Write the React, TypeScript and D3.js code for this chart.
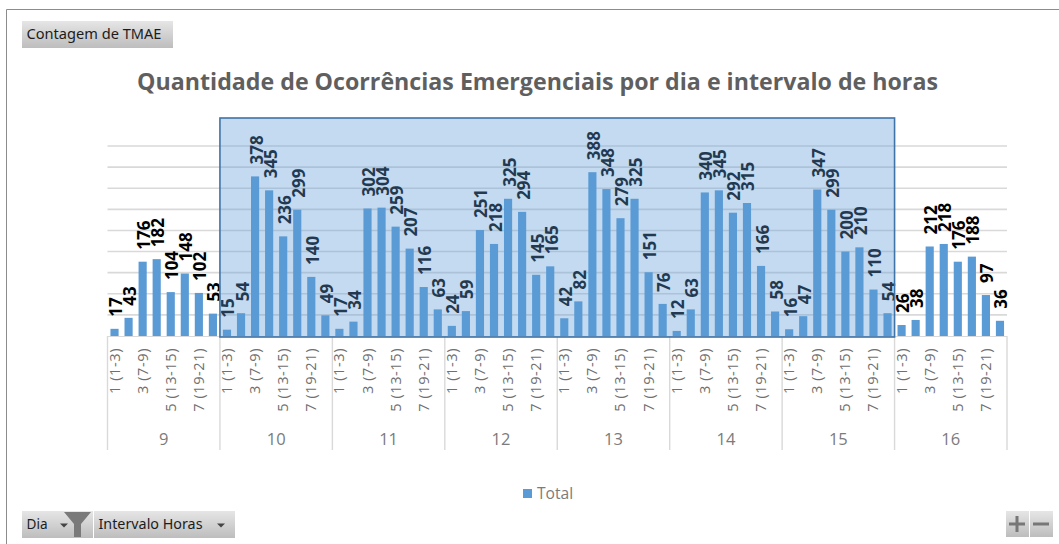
import React from "react";
import * as d3 from "d3";

const days = ["9", "10", "11", "12", "13", "14", "15", "16"];
const intervals = ["1 (1-3)", "2 (4-6)", "3 (7-9)", "4 (10-12)", "5 (13-15)", "6 (16-18)", "7 (19-21)", "8 (22-24)"];
const shownIntervals = ["1 (1-3)", "3 (7-9)", "5 (13-15)", "7 (19-21)"];
const day9 = [17, 43, 176, 182, 104, 148, 102, 53];
const day10 = [15, 54, 378, 345, 236, 299, 140, 49];
const day11 = [17, 34, 302, 304, 259, 207, 116, 63];
const day12 = [24, 59, 251, 218, 325, 294, 145, 165];
const day13 = [42, 82, 388, 348, 279, 325, 151, 76];
const day14 = [12, 63, 340, 345, 292, 315, 166, 58];
const day15 = [16, 47, 347, 299, 200, 210, 110, 54];
const day16 = [26, 38, 212, 218, 176, 188, 97, 36];
const seriesByDay = [day9, day10, day11, day12, day13, day14, day15, day16];
const gridValues = [50, 100, 150, 200, 250, 300, 350, 400, 450];
const selectedDays = ["10", "11", "12", "13", "14", "15"];

const FONT = "'Open Sans', 'Noto Sans', sans-serif";
const BTNFONT = "'Noto Sans', sans-serif";
const BAR = "#5b9bd5";

function Btn({ x, y, w, h, label, labelW, arrow }: { x: number; y: number; w: number; h: number; label?: string; labelW?: number; arrow?: number }) {
  return (
    <g>
      <rect x={x} y={y} width={w} height={h} fill="url(#btn)" />
      {label && (
        <text x={x + 4.5} y={y + h / 2 + 4.5} fontSize={14} fill="#1c1c1c" fontFamily={BTNFONT} textLength={labelW} lengthAdjust="spacingAndGlyphs">
          {label}
        </text>
      )}
      {arrow !== undefined && <path d={`M${arrow},${y + 12.5}h8l-4,4z`} fill="#444" />}
    </g>
  );
}

export default function App() {
  const keys = days.flatMap((d) => intervals.map((i) => `${d}|${i}`));
  const x = d3.scaleBand<string>().domain(keys).range([107.5, 1007]).paddingInner(0.42).paddingOuter(0.21);
  const step = x.step();
  const y = d3.scaleLinear().domain([0, 450]).range([336, 146]);
  const left = (d: string) => x(`${d}|${intervals[0]}`)! - (step - x.bandwidth()) / 2;
  const dayW = step * intervals.length;
  const selX0 = left(selectedDays[0]);
  const selX1 = left(selectedDays[selectedDays.length - 1]) + dayW;

  return (
    <svg
      width={1059}
      height={544}
      style={{ position: "absolute", left: 0, top: 0, display: "block", background: "#fff" }}
    >
      <defs>
        <linearGradient id="btn" x1="0" y1="0" x2="0" y2="1">
          <stop offset="0" stopColor="#e6e6e6" />
          <stop offset="1" stopColor="#bdbdbd" />
        </linearGradient>
      </defs>

      <path d="M6.5,544V9.5H1059" fill="none" stroke="#8c8c8c" strokeWidth={1} />

      <Btn x={22} y={21} w={151} h={27} label="Contagem de TMAE" labelW={135} />

      <text x={537.5} y={90} textAnchor="middle" fontSize={23.2} fontWeight={700} fill="#5f5f5f" fontFamily={FONT}>
        Quantidade de Ocorrências Emergenciais por dia e intervalo de horas
      </text>

      {gridValues.map((v) => (
        <line key={v} x1={107.5} x2={1007} y1={y(v)} y2={y(v)} stroke="#d9d9d9" strokeWidth={1.6} />
      ))}

      {/* day separators and axis */}
      <line x1={107.5} x2={1007} y1={336.5} y2={336.5} stroke="#d9d9d9" strokeWidth={1.2} />
      {[...days, "end"].map((d, i) => {
        const px = 107.5 + i * dayW;
        return <line key={d} x1={px} x2={px} y1={336} y2={450} stroke="#d9d9d9" strokeWidth={1.4} />;
      })}

      {days.map((d) =>
        shownIntervals.map((iv) => {
          const key = `${d}|${iv}`;
          const cx = x(key)! + x.bandwidth() / 2;
          return (
            <text
              key={key}
              transform={`translate(${cx + 5},348) rotate(-90)`}
              textAnchor="end"
              fontSize={14.6}
              letterSpacing={0.55}
              fill="#707070"
              fontFamily={FONT}
            >
              {iv}
            </text>
          );
        })
      )}

      {days.map((d) => (
        <text
          key={d}
          x={left(d) + dayW / 2}
          y={445}
          textAnchor="middle"
          fontSize={16.5}
          fill="#7b7b7b"
          fontFamily={FONT}
        >
          {d}
        </text>
      ))}

      {/* data labels, tinted by the selection */}
      {days.map((d, di) =>
        intervals.map((iv, i) => {
          const key = `${d}|${iv}`;
          const v = seriesByDay[di][i];
          const cx = x(key)! + x.bandwidth() / 2;
          return (
            <text
              key={key}
              transform={`translate(${cx + 7.5},${y(v) - 12}) rotate(-90)`}
              fontSize={17}
              fontWeight={700}
              fill="#000"
              fontFamily={FONT}
            >
              {v}
            </text>
          );
        })
      )}

      {/* selection overlay */}
      <rect
        x={selX0}
        y={118}
        width={selX1 - selX0}
        height={219}
        fill="#5b9bd5"
        fillOpacity={0.37}
        stroke="#3f74a8"
        strokeWidth={1.6}
      />

      {/* bars */}
      {days.map((d, di) =>
        intervals.map((iv, i) => {
          const key = `${d}|${iv}`;
          const v = seriesByDay[di][i];
          return (
            <rect
              key={key}
              x={x(key)}
              width={x.bandwidth()}
              y={y(v)}
              height={336 - y(v)}
              fill={BAR}
            />
          );
        })
      )}

      {/* legend */}
      <rect x={523} y={489} width={9} height={9} fill={BAR} />
      <text x={537} y={498.5} fontSize={15.6} fill="#7b7b7b" fontFamily={FONT}>
        Total
      </text>

      {/* field buttons */}
      <Btn x={22} y={511} w={71} h={27} label="Dia" labelW={21} arrow={60} />
      <path d="M64,512H91L81,524V537H74V524Z" fill="#7a7a7a" />
      <Btn x={94} y={511} w={141} h={27} label="Intervalo Horas" labelW={104} arrow={217} />
      <Btn x={1006} y={511} w={23} h={26} />
      <Btn x={1030} y={511} w={23} h={26} />
      <path d="M1009,524h16M1017,516v16" stroke="#777" strokeWidth={3} />
      <path d="M1033,524h16" stroke="#777" strokeWidth={3} />
    </svg>
  );
}
